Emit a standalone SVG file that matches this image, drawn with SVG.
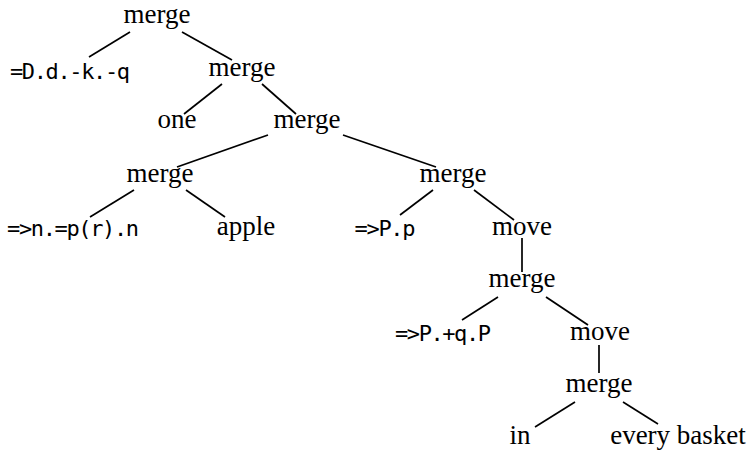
<svg xmlns="http://www.w3.org/2000/svg" width="753" height="451" viewBox="0 0 753 451">
<style>
.s{font-family:"Liberation Serif","Times New Roman",serif;font-size:27px;fill:#000;text-anchor:middle}
.m{font-family:"DejaVu Sans Mono","Liberation Mono",monospace;font-size:22px;fill:#000;text-anchor:middle}
.e{stroke:#000;stroke-width:1.7;fill:none;stroke-linecap:butt}
</style>
<rect width="753" height="451" fill="#fff"/>
<g id="connectors">
<line class="e" x1="130" y1="32" x2="89" y2="57"/>
<line class="e" x1="182" y1="32" x2="232" y2="60"/>
<line class="e" x1="222" y1="84" x2="184" y2="114"/>
<line class="e" x1="262" y1="84" x2="296" y2="114"/>
<line class="e" x1="268" y1="135" x2="177" y2="167"/>
<line class="e" x1="343" y1="135" x2="436" y2="167"/>
<line class="e" x1="134" y1="190" x2="90" y2="217"/>
<line class="e" x1="186" y1="190" x2="225" y2="217"/>
<line class="e" x1="433" y1="190" x2="400" y2="215"/>
<line class="e" x1="474" y1="190" x2="514" y2="220"/>
<line class="e" x1="522" y1="238" x2="522" y2="272"/>
<line class="e" x1="498" y1="297" x2="462" y2="320"/>
<line class="e" x1="546" y1="297" x2="588" y2="325"/>
<line class="e" x1="599" y1="345" x2="599" y2="373"/>
<line class="e" x1="575" y1="402" x2="535" y2="427"/>
<line class="e" x1="623" y1="402" x2="658" y2="424"/>
</g>
<g id="n0"><text class="s" x="157" y="23">merge</text></g>
<g id="n1"><text class="m" x="70" y="79" textLength="120" lengthAdjust="spacing">=D.d.-k.-q</text></g>
<g id="n2"><text class="s" x="242" y="76">merge</text></g>
<g id="n3"><text class="s" x="177" y="128">one</text></g>
<g id="n4"><text class="s" x="307" y="128">merge</text></g>
<g id="n5"><text class="s" x="160" y="182">merge</text></g>
<g id="n6"><text class="m" x="73" y="236" textLength="132" lengthAdjust="spacing">=&gt;n.=p(r).n</text></g>
<g id="n7"><text class="s" x="246" y="235">apple</text></g>
<g id="n8"><text class="s" x="453" y="182">merge</text></g>
<g id="n9"><text class="m" x="385" y="236" textLength="61" lengthAdjust="spacing">=&gt;P.p</text></g>
<g id="n10"><text class="s" x="522" y="235">move</text></g>
<g id="n11"><text class="s" x="522" y="287">merge</text></g>
<g id="n12"><text class="m" x="443" y="341" textLength="96" lengthAdjust="spacing">=&gt;P.+q.P</text></g>
<g id="n13"><text class="s" x="600" y="340">move</text></g>
<g id="n14"><text class="s" x="599" y="392">merge</text></g>
<g id="n15"><text class="s" x="520" y="444">in</text></g>
<g id="n16"><text class="s" x="678" y="444">every basket</text></g>
</svg>
